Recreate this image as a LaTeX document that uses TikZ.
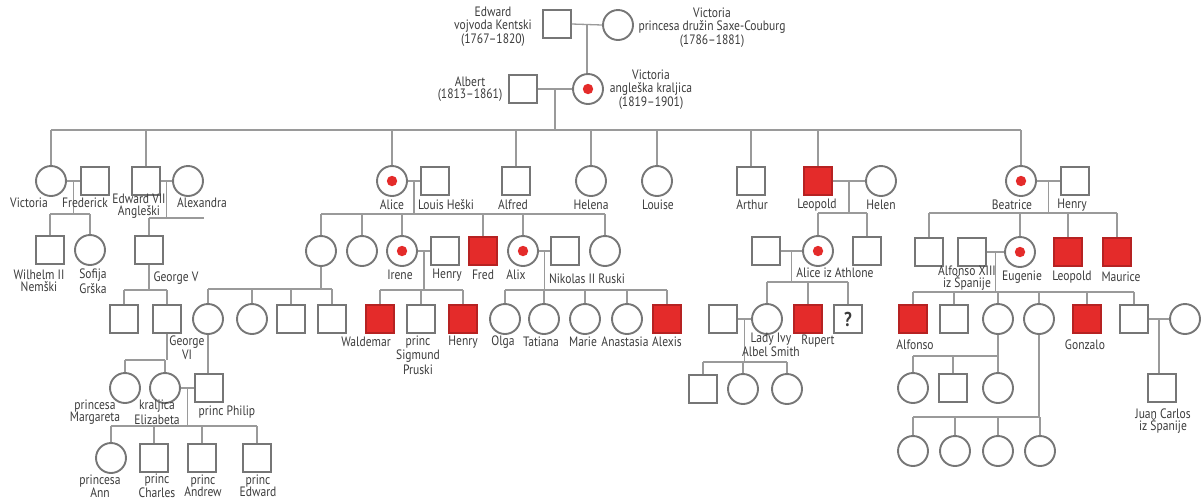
\documentclass[tikz,border=0pt]{standalone}
\usepackage{fontspec}
\setmainfont[FakeStretch=0.85]{PT Sans}
\usetikzlibrary{calc}
\definecolor{ln}{HTML}{9A9A9A}
\definecolor{sym}{HTML}{767676}
\definecolor{aff}{HTML}{E42B2A}
\definecolor{txt}{HTML}{3C3C3C}
\tikzset{
 sq/.style={draw=sym, line width=0.95pt, minimum size=14pt, inner sep=0pt, fill=white},
 ci/.style={draw=sym, line width=0.95pt, circle, minimum size=15pt, inner sep=0pt, fill=white},
 sqa/.style={sq, fill=aff, draw=aff!80!black},
 cc/.style={ci, path picture={\fill[aff] (path picture bounding box.center) circle (2.6pt);}},
 lbl/.style={align=center, inner sep=0pt, text=txt, font=\fontsize{6.8}{6.2}\selectfont},
 con/.style={draw=ln, line width=0.65pt},
}
\begin{document}
\begin{tikzpicture}[x=0.5pt,y=-0.5pt]
\useasboundingbox[fill=white] (0,0) rectangle (1203,500);
% generation 0
\node[sq] (ed) at (557,24) {};
\node[ci] (vp) at (618,25) {};
% generation 1
\node[sq] (alb) at (523,89) {};
\node[cc] (vq) at (588,89) {};
% generation 2
\node[ci] (vic) at (51,181) {};
\node[sq] (fred) at (95,181) {};
\node[sq] (ed7) at (146,181) {};
\node[ci] (alexa) at (188,181) {};
\node[cc] (alice) at (392,181) {};
\node[sq] (louis) at (435,181) {};
\node[sq] (alfred) at (516,181) {};
\node[ci] (helena) at (591,181) {};
\node[ci] (louise) at (657,181) {};
\node[sq] (arthur) at (751,181) {};
\node[sqa] (leo) at (818,181) {};
\node[ci] (helen) at (881,181) {};
\node[cc] (beat) at (1021,181) {};
\node[sq] (henB) at (1075,181) {};
% generation 3
\node[sq] (wil) at (50,250) {};
\node[ci] (sof) at (90,250) {};
\node[sq] (g5) at (149,250) {};
\node[ci] (al1) at (321,251) {};
\node[ci] (al2) at (362,251) {};
\node[cc] (irene) at (402,251) {};
\node[sq] (henI) at (445,251) {};
\node[sqa] (fredA) at (483,251) {};
\node[cc] (alix) at (523,251) {};
\node[sq] (nik) at (565,251) {};
\node[ci] (al6) at (605,251) {};
\node[sq] (athH) at (766,251) {};
\node[cc] (athA) at (818,251) {};
\node[sq] (athS) at (867,251) {};
\node[sq] (b1) at (929,252) {};
\node[sq] (alf13) at (972,252) {};
\node[cc] (eug) at (1020,252) {};
\node[sqa] (leoB) at (1068,252) {};
\node[sqa] (maur) at (1117,252) {};
% generation 4
\node[sq] (g5a) at (124,319) {};
\node[sq] (g6) at (167,319) {};
\node[ci] (bat1) at (208,319) {};
\node[ci] (bat2) at (252,319) {};
\node[sq] (bat3) at (291,319) {};
\node[sq] (bat4) at (332,319) {};
\node[sqa] (wald) at (380,319) {};
\node[sq] (sig) at (421,319) {};
\node[sqa] (henP) at (463,319) {};
\node[ci] (olga) at (505,319) {};
\node[ci] (tat) at (544,319) {};
\node[ci] (marie) at (585,319) {};
\node[ci] (anas) at (627,319) {};
\node[sqa] (alexis) at (667,319) {};
\node[sq] (ivyH) at (723,319) {};
\node[ci] (ivy) at (767,319) {};
\node[sqa] (rup) at (808,319) {};
\node[sq, font=\fontsize{10}{10}\bfseries, text=txt] (unk) at (848,319) {?};
\node[sqa] (alfo) at (913,319) {};
\node[sq] (sp2) at (954,319) {};
\node[ci] (sp3) at (998,319) {};
\node[ci] (sp4) at (1039,319) {};
\node[sqa] (gonz) at (1087,319) {};
\node[sq] (sp6) at (1134,319) {};
\node[ci] (sp6w) at (1185,319) {};
% generation 5
\node[ci] (marg) at (125,388) {};
\node[ci] (eliz) at (165,388) {};
\node[sq] (phil) at (209,388) {};
\node[sq] (iv1) at (703,389) {};
\node[ci] (iv2) at (743,389) {};
\node[ci] (iv3) at (787,389) {};
\node[ci] (s3a) at (913,388) {};
\node[sq] (s3b) at (953,388) {};
\node[ci] (s3c) at (998,388) {};
\node[sq] (jc) at (1162,388) {};
% generation 6
\node[ci] (ann) at (111,458) {};
\node[sq] (charles) at (154,458) {};
\node[sq] (andrew) at (202,458) {};
\node[sq] (edw) at (257,458) {};
\node[ci] (s4a) at (913,451) {};
\node[ci] (s4b) at (955,451) {};
\node[ci] (s4c) at (998,451) {};
\node[ci] (s4d) at (1040,451) {};

% bar levels
\coordinate (b0) at (0,130);
\coordinate (bVF) at (0,214);
\coordinate (bE7) at (0,218);
\coordinate (e7end) at (204,218);
\coordinate (bG5) at (0,290);
\coordinate (bAL) at (0,214);
\coordinate (bIR) at (0,290);
\coordinate (bAX) at (0,290);
\coordinate (bA1) at (0,289);
\coordinate (bG6) at (0,360);
\coordinate (bEP) at (0,426);
\coordinate (bLH) at (0,213);
\coordinate (bAT) at (0,282);
\coordinate (bIV) at (0,362);
\coordinate (bBH) at (0,213);
\coordinate (bAE) at (0,292);
\coordinate (bS3) at (0,356);
\coordinate (bS4) at (0,417);

% marriages
\coordinate (m0) at ($(ed.east)!0.5!(vp.west)$);
\coordinate (m1) at ($(alb.east)!0.5!(vq.west)$);
\coordinate (mVF) at ($(vic.east)!0.5!(fred.west)$);
\coordinate (mE7) at ($(ed7.east)!0.5!(alexa.west)$);
\coordinate (mAL) at ($(alice.east)!0.5!(louis.west)$);
\coordinate (mLH) at ($(leo.east)!0.5!(helen.west)$);
\coordinate (mBH) at ($(beat.east)!0.5!(henB.west)$);
\coordinate (mIR) at ($(irene.east)!0.5!(henI.west)$);
\coordinate (mAX) at ($(alix.east)!0.5!(nik.west)$);
\coordinate (mAT) at ($(athH.east)!0.5!(athA.west)$);
\coordinate (mAE) at ($(alf13.east)!0.5!(eug.west)$);
\coordinate (mIV) at ($(ivyH.east)!0.5!(ivy.west)$);
\coordinate (mS6) at ($(sp6.east)!0.5!(sp6w.west)$);
\coordinate (mEP) at ($(eliz.east)!0.5!(phil.west)$);
\foreach \a/\b in {ed/vp, alb/vq, vic/fred, ed7/alexa, alice/louis, leo/helen, beat/henB, irene/henI, alix/nik, athH/athA, alf13/eug, ivyH/ivy, sp6/sp6w, eliz/phil}
  \draw[con] (\a.east) -- (\b.west);

% descents
\draw[con] (m0) -- (m0 |- vq.north);
\draw[con] (m1) -- (m1 |- b0);
\draw[con] (vic |- b0) -- (beat |- b0);
\foreach \c in {vic, ed7, alice, alfred, helena, louise, arthur, leo, beat}
  \draw[con] (\c.north) -- (\c |- b0);

\draw[con] (mVF) -- (mVF |- bVF);
\draw[con] (wil |- bVF) -- (sof |- bVF);
\foreach \c in {wil, sof} \draw[con] (\c.north) -- (\c |- bVF);

\draw[con] (mE7) -- (mE7 |- bE7);
\draw[con] (g5 |- bE7) -- (e7end);
\draw[con] (g5.north) -- (g5 |- bE7);

\draw[con] (g5.south) -- (g5 |- bG5);
\draw[con] (g5a |- bG5) -- (g6 |- bG5);
\foreach \c in {g5a, g6} \draw[con] (\c.north) -- (\c |- bG5);

\draw[con] (mAL) -- (mAL |- bAL);
\draw[con] (al1 |- bAL) -- (al6 |- bAL);
\foreach \c in {al1, al2, irene, fredA, alix, al6} \draw[con] (\c.north) -- (\c |- bAL);

\draw[con] (al1.south) -- (al1 |- bA1);
\draw[con] (bat1 |- bA1) -- (bat4 |- bA1);
\foreach \c in {bat1, bat2, bat3, bat4} \draw[con] (\c.north) -- (\c |- bA1);

\draw[con] (mIR) -- (mIR |- bIR);
\draw[con] (wald |- bIR) -- (henP |- bIR);
\foreach \c in {wald, sig, henP} \draw[con] (\c.north) -- (\c |- bIR);

\draw[con] (mAX) -- (mAX |- bAX);
\draw[con] (olga |- bAX) -- (alexis |- bAX);
\foreach \c in {olga, tat, marie, anas, alexis} \draw[con] (\c.north) -- (\c |- bAX);

\draw[con] (g6.south) -- (g6 |- bG6);
\draw[con] (marg |- bG6) -- (eliz |- bG6);
\foreach \c in {marg, eliz} \draw[con] (\c.north) -- (\c |- bG6);

\draw[con] (bat1.south) -- (bat1 |- phil.north);

\draw[con] (mEP) -- (mEP |- bEP);
\draw[con] (ann |- bEP) -- (edw |- bEP);
\foreach \c in {ann, charles, andrew, edw} \draw[con] (\c.north) -- (\c |- bEP);

\draw[con] (mLH) -- (mLH |- bLH);
\draw[con] (athA |- bLH) -- (athS |- bLH);
\foreach \c in {athA, athS} \draw[con] (\c.north) -- (\c |- bLH);

\draw[con] (mAT) -- (mAT |- bAT);
\draw[con] (ivy |- bAT) -- (unk |- bAT);
\foreach \c in {ivy, rup, unk} \draw[con] (\c.north) -- (\c |- bAT);

\draw[con] (mIV) -- (mIV |- bIV);
\draw[con] (iv1 |- bIV) -- (iv3 |- bIV);
\foreach \c in {iv1, iv2, iv3} \draw[con] (\c.north) -- (\c |- bIV);

\draw[con] (mBH) -- (mBH |- bBH);
\draw[con] (b1 |- bBH) -- (maur |- bBH);
\foreach \c in {b1, eug, leoB, maur} \draw[con] (\c.north) -- (\c |- bBH);

\draw[con] (mAE) -- (mAE |- bAE);
\draw[con] (alfo |- bAE) -- (sp6 |- bAE);
\foreach \c in {alfo, sp2, sp3, sp4, gonz, sp6} \draw[con] (\c.north) -- (\c |- bAE);

\draw[con] (sp3.south) -- (sp3 |- bS3);
\draw[con] (s3a |- bS3) -- (s3c |- bS3);
\foreach \c in {s3a, s3b, s3c} \draw[con] (\c.north) -- (\c |- bS3);

\draw[con] (sp4.south) -- (sp4 |- bS4);
\draw[con] (s4a |- bS4) -- (s4d |- bS4);
\foreach \c in {s4a, s4b, s4c, s4d} \draw[con] (\c.north) -- (\c |- bS4);

\draw[con] (mS6) -- (mS6 |- jc.north);

% labels
\node[lbl] (t-ed) at (493,27) {Edward\\vojvoda Kentski\\(1767–1820)};
\node[lbl] (t-vp) at (712,28) {Victoria\\princesa družin Saxe-Couburg\\(1786–1881)};
\node[lbl] (t-alb) at (470,89) {Albert\\(1813–1861)};
\node[lbl] (t-vq) at (651,90) {Victoria\\angleška kraljica\\(1819–1901)};

\node[lbl] (t-vic) at (29,203) {Victoria};
\node[lbl] (t-fred) at (85,203) {Frederick};
\node[lbl] (t-ed7) at (139,206) {Edward VII\\Angleški};
\node[lbl] (t-alexa) at (202,203) {Alexandra};
\node[lbl] (t-alice) at (392,205) {Alice};
\node[lbl] (t-louis) at (446,205) {Louis Heški};
\node[lbl] (t-alfred) at (513,205) {Alfred};
\node[lbl] (t-helena) at (591,205) {Helena};
\node[lbl] (t-louise) at (658,205) {Louise};
\node[lbl] (t-arthur) at (752,205) {Arthur};
\node[lbl] (t-leo) at (817,205) {Leopold};
\node[lbl] (t-helen) at (881,205) {Helen};
\node[lbl] (t-beat) at (1012,205) {Beatrice};
\node[lbl] (t-henB) at (1072,205) {Henry};

\node[lbl] (t-wil) at (39,281) {Wilhelm II\\Nemški};
\node[lbl] (t-sof) at (93,281) {Sofija\\Grška};
\node[lbl] (t-g5) at (176,278) {George V};
\node[lbl] (t-irene) at (400,275) {Irene};
\node[lbl] (t-henI) at (447,275) {Henry};
\node[lbl] (t-fredA) at (483,275) {Fred};
\node[lbl] (t-alix) at (516,275) {Alix};
\node[lbl] (t-nik) at (587,279) {Nikolas II Ruski};
\node[lbl] (t-athA) at (835,273) {Alice iz Athlone};
\node[lbl] (t-alf13) at (967,278) {Alfonso XIII\\iz Španije};
\node[lbl] (t-eug) at (1022,277) {Eugenie};
\node[lbl] (t-leoB) at (1072,277) {Leopold};
\node[lbl] (t-maur) at (1121,277) {Maurice};

\node[lbl] (t-g6) at (187,348) {George\\VI};
\node[lbl] (t-wald) at (366,342) {Waldemar};
\node[lbl] (t-sig) at (418,355) {princ\\Sigmund\\Pruski};
\node[lbl] (t-henP) at (463,342) {Henry};
\node[lbl] (t-olga) at (503,342) {Olga};
\node[lbl] (t-tat) at (541,342) {Tatiana};
\node[lbl] (t-marie) at (583,342) {Marie};
\node[lbl] (t-anas) at (625,342) {Anastasia};
\node[lbl] (t-alexis) at (667,342) {Alexis};
\node[lbl] (t-ivy) at (771,345) {Lady Ivy\\Albel Smith};
\node[lbl] (t-rup) at (818,341) {Rupert};
\node[lbl] (t-alfo) at (915,345) {Alfonso};
\node[lbl] (t-gonz) at (1085,345) {Gonzalo};

\node[lbl] (t-marg) at (95,412) {princesa\\Margareta};
\node[lbl] (t-eliz) at (157,412) {kraljica\\Elizabeta};
\node[lbl] (t-phil) at (227,412) {princ Philip};
\node[lbl] (t-jc) at (1163,421) {Juan Carlos\\iz Španije};

\node[lbl] (t-ann) at (100,486) {princesa\\Ann};
\node[lbl] (t-charles) at (157,486) {princ\\Charles};
\node[lbl] (t-andrew) at (203,486) {princ\\Andrew};
\node[lbl] (t-edw) at (258,486) {princ\\Edward};
\end{tikzpicture}
\end{document}
